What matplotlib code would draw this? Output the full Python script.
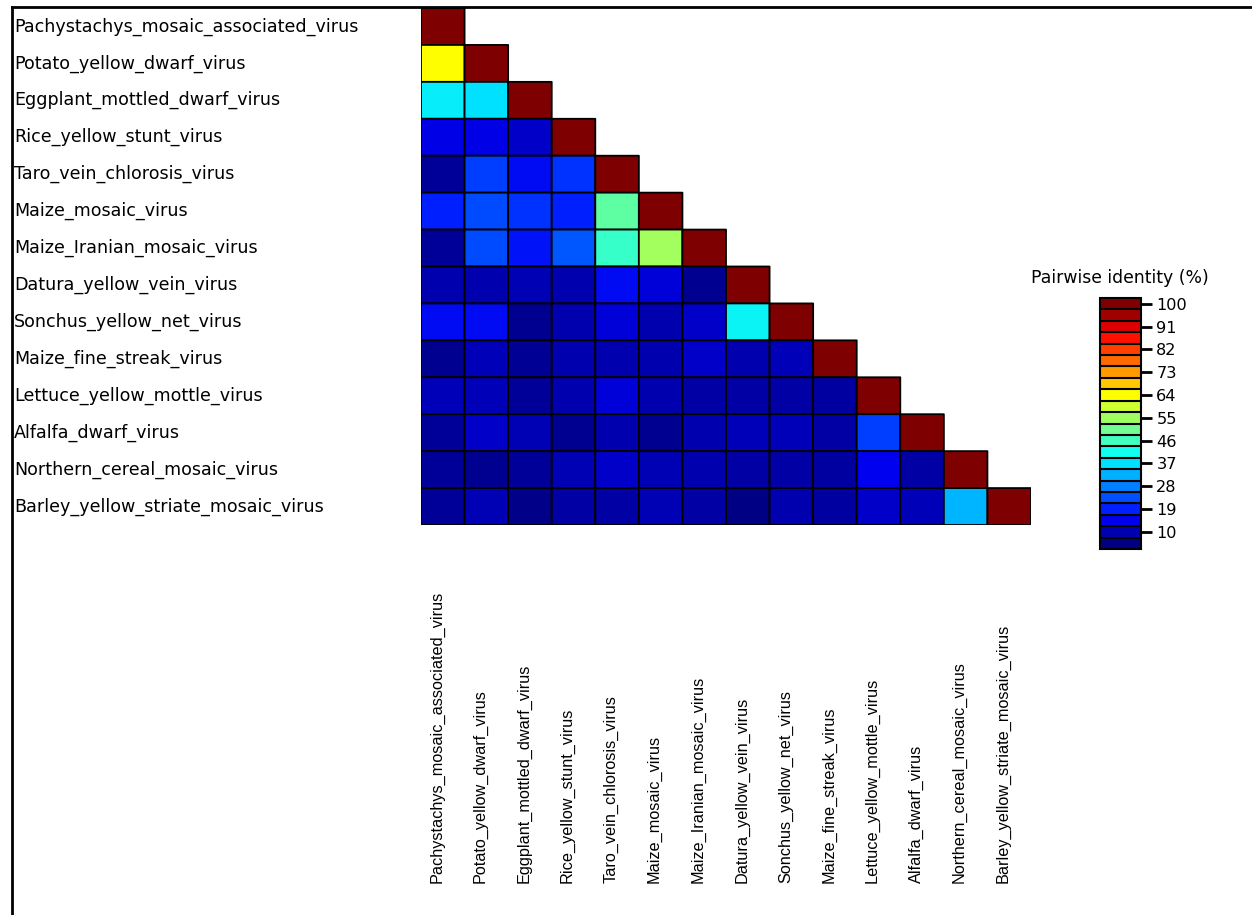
import numpy as np
import matplotlib
matplotlib.use('Agg')
import matplotlib.pyplot as plt
from matplotlib.colors import ListedColormap, LinearSegmentedColormap, BoundaryNorm, Normalize
from matplotlib.cm import ScalarMappable
from matplotlib.lines import Line2D
import matplotlib.transforms as mtransforms

# Virus names, same order for rows and columns
viruses = [
    'Pachystachys_mosaic_associated_virus',
    'Potato_yellow_dwarf_virus',
    'Eggplant_mottled_dwarf_virus',
    'Rice_yellow_stunt_virus',
    'Taro_vein_chlorosis_virus',
    'Maize_mosaic_virus',
    'Maize_Iranian_mosaic_virus',
    'Datura_yellow_vein_virus',
    'Sonchus_yellow_net_virus',
    'Maize_fine_streak_virus',
    'Lettuce_yellow_mottle_virus',
    'Alfalfa_dwarf_virus',
    'Northern_cereal_mosaic_virus',
    'Barley_yellow_striate_mosaic_virus',
]

# Pairwise identity (%), lower triangle, one list per row (diagonal = 100)
row_00 = [100]
row_01 = [64, 100]
row_02 = [39, 37, 100]
row_03 = [14, 14, 12, 100]
row_04 = [8, 22, 16, 21, 100]
row_05 = [19, 23, 21, 19, 49, 100]
row_06 = [8, 23, 17, 24, 45, 55, 100]
row_07 = [10, 10, 10.5, 10, 16, 13, 7, 100]
row_08 = [16, 16, 7, 10, 13, 10, 12, 40, 100]
row_09 = [7, 11, 7.5, 10, 10, 10, 12, 10, 11, 100]
row_10 = [11, 11, 8, 10, 13, 10, 9, 9, 9, 8.5, 100]
row_11 = [8, 12, 10.5, 7, 10, 7, 10, 11, 11, 9, 22, 100]
row_12 = [8, 7, 8, 10.5, 12, 10.5, 10, 9, 9, 8.5, 15, 9, 100]
row_13 = [8, 10.5, 6.5, 9, 9, 10.5, 9, 6, 10, 8.5, 12, 11, 33, 100]
rows = [row_00, row_01, row_02, row_03, row_04, row_05, row_06,
        row_07, row_08, row_09, row_10, row_11, row_12, row_13]

cbar_ticks = [10, 19, 28, 37, 46, 55, 64, 73, 82, 91, 100]

# colour steps of the identity scale, low to high
level_colors = ['#000080', '#0000b0', '#0000ee', '#0020ff', '#0050ff', '#0080ff',
                '#00b0ff', '#00e0ff', '#10fff0', '#40ffc0', '#70ff90', '#a0ff60',
                '#d0ff30', '#ffff00', '#ffc800', '#ff9a00', '#ff6a00', '#ff4000',
                '#ff1000', '#dd0000', '#a00000', '#7f0000']

n = len(viruses)
mat = np.full((n, n), np.nan)
for i, r in enumerate(rows):
    mat[i, :len(r)] = r
mat = np.ma.masked_invalid(mat)

W, H = 1252, 915
fig = plt.figure(figsize=(W / 100, H / 100), dpi=100)
fig.patch.set_facecolor('white')

# heatmap (pcolor skips the masked upper half completely)
ax = fig.add_axes([421 / W, 1 - 525 / H, (1031 - 421) / W, (525 - 8) / H])
cont_cmap = LinearSegmentedColormap.from_list('pid', level_colors)
ax.pcolor(np.arange(n + 1), np.arange(n + 1), mat, cmap=cont_cmap,
          norm=Normalize(5.5, 100), edgecolors='black', linewidth=1.3)
ax.set_xlim(0, n)
ax.set_ylim(n, 0)
ax.axis('off')

# row names, left aligned near the frame
trans_rows = mtransforms.blended_transform_factory(fig.transFigure, ax.transData)
for i, name in enumerate(viruses):
    ax.text(14 / W, i + 0.5, name, transform=trans_rows, ha='left', va='center',
            fontsize=12.6, family='DejaVu Sans', color='black')

# column names, vertical, bottom aligned
trans_cols = mtransforms.blended_transform_factory(ax.transData, fig.transFigure)
for j, name in enumerate(viruses):
    ax.text(j + 0.36, 1 - 883 / H, name, transform=trans_cols, rotation=90,
            ha='center', va='bottom', fontsize=11.7, family='Liberation Sans',
            color='black')

# colour scale
cax = fig.add_axes([1100 / W, 1 - 549 / H, 41 / W, 251 / H])
bounds = np.arange(3.25, 102.26, 4.5)
sm = ScalarMappable(norm=BoundaryNorm(bounds, len(level_colors)),
                    cmap=ListedColormap(level_colors))
cb = fig.colorbar(sm, cax=cax, ticks=cbar_ticks, drawedges=True)
cb.dividers.set_color('black')
cb.dividers.set_linewidth(1.5)
cb.outline.set_linewidth(1.5)
cax.minorticks_off()
cax.tick_params(length=8, width=2, labelsize=11.6, pad=3)
for t in cax.get_yticklabels():
    t.set_family('DejaVu Sans')
fig.text(1120 / W, 1 - 278 / H, 'Pairwise identity (%)', ha='center', va='center',
         fontsize=12.4, family='DejaVu Sans')

# thin frame on top and left
fig.add_artist(Line2D([12 / W, 1], [1 - 7 / H, 1 - 7 / H], color='black', lw=2))
fig.add_artist(Line2D([12 / W, 12 / W], [0, 1 - 7 / H], color='black', lw=2))

fig.savefig('out.png', dpi=100)
